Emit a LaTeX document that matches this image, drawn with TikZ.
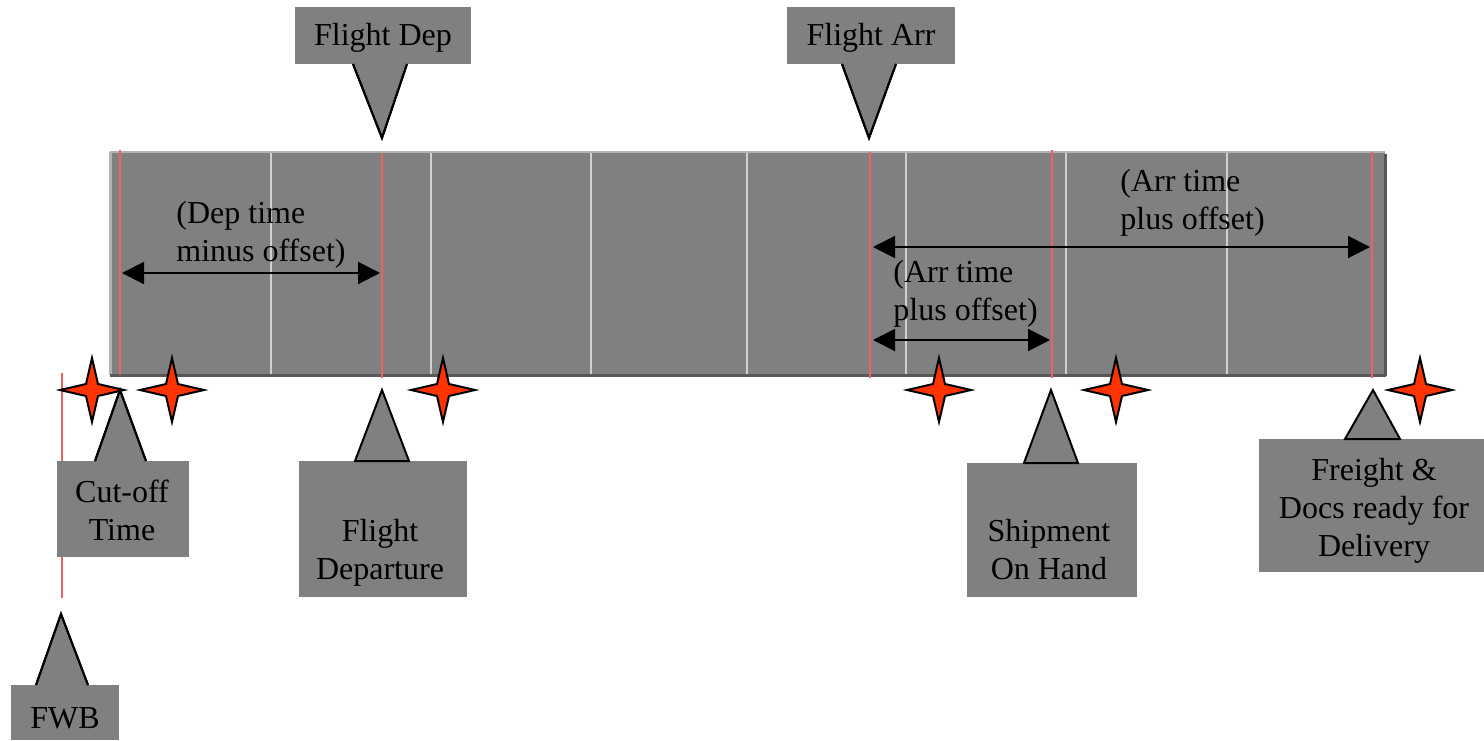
\documentclass[tikz,border=0pt]{standalone}
\usepackage{fontspec}
\setmainfont{Liberation Serif}
\usetikzlibrary{arrows.meta}
\definecolor{barfill}{HTML}{808080}
\definecolor{barlight}{HTML}{B2B2B2}
\definecolor{bardark}{HTML}{585858}
\definecolor{cellgap}{HTML}{D0D0D0}
\definecolor{marker}{HTML}{EA6460}
\definecolor{starred}{HTML}{FF3300}
\tikzset{
  callbox/.style={fill=barfill},
  calltip/.style={fill=barfill, draw=black, line width=1pt, line join=miter},
  lbl/.style={font=\fontsize{16}{19}\selectfont, align=center, inner sep=0pt, text=black},
  note/.style={font=\fontsize{16}{19}\selectfont, align=left, inner sep=0pt, anchor=north west, text=black},
  redmark/.style={draw=marker, line width=0.9pt},
  spanarrow/.style={draw=black, line width=1pt, {Triangle[length=11pt,width=11pt]}-{Triangle[length=11pt,width=11pt]}},
  sparkle/.style={fill=starred, draw=black, line width=1pt, line join=miter}
}
\newcommand\sparkleat[1]{%
  \draw[sparkle, shift={(#1)}] (32,0) -- (6,6) -- (0,32) -- (-6,6) -- (-32,0)
    -- (-6,-6) -- (0,-32) -- (6,-6) -- cycle;}
\begin{document}
\begin{tikzpicture}[x=0.5pt, y=-0.5pt]
\useasboundingbox (0,0) rectangle (1484,740);

% time bar made of eight cells
\fill[barfill] (110,152) rectangle (1385,375);
\foreach \xx in {271,431,591,747,906,1066,1227}
  \draw[cellgap, line width=1pt] (\xx,153) -- (\xx,374);
\draw[barlight, line width=1.2pt] (110,152) -- (1385,152);
\draw[barlight, line width=1.5pt] (110,152) -- (110,375);
\draw[bardark, line width=1.5pt] (110,375) -- (1386,375);
\draw[bardark, line width=1.5pt] (1385,154) -- (1385,376);

% event markers
\draw[redmark] (120,150) -- (120,375);
\draw[redmark] (382,153) -- (382,378);
\draw[redmark] (870,152) -- (870,378);
\draw[redmark] (1052,150) -- (1052,378);
\draw[redmark] (1372,152) -- (1372,378);
\draw[redmark] (62,373) -- (62,598);

% spans between events
\coordinate (depA) at (122,273);
\coordinate (depB) at (380,273);
\draw[spanarrow] (depA) -- (depB);
\node[note] (depnote) at (176,201) {(Dep time\\minus offset)};

\coordinate (arrA) at (873,247);
\coordinate (arrB) at (1370,247);
\draw[spanarrow] (arrA) -- (arrB);
\node[note] (arrnote) at (1120,169) {(Arr time\\plus offset)};

\coordinate (shA) at (873,340);
\coordinate (shB) at (1050,340);
\draw[spanarrow] (shA) -- (shB);
\node[note] (shnote) at (893,260) {(Arr time\\plus offset)};

% callouts above the bar
\path[callbox] (295,7) rectangle (471,64);
\coordinate (depTip) at (382,138);
\path[calltip] (353,64) -- (depTip) -- (407,64);
\draw[line width=1pt] (353,64) -- (depTip) -- (407,64);
\node[lbl] (fdep) at (383,38) {Flight Dep};

\path[callbox] (787,7) rectangle (955,64);
\coordinate (arrTip) at (869,138);
\path[calltip] (842,64) -- (arrTip) -- (896,64);
\draw[line width=1pt] (842,64) -- (arrTip) -- (896,64);
\node[lbl] (farr) at (871,38) {Flight Arr};

% callouts below the bar
\path[callbox] (57,461) rectangle (189,557);
\coordinate (cutTip) at (120,390);
\path[calltip] (95,461) -- (cutTip) -- (146,461);
\draw[line width=1pt] (95,461) -- (cutTip) -- (146,461);
\node[lbl] (cut) at (122,510) {Cut-off\\Time};

\path[callbox] (299,461) rectangle (467,597);
\coordinate (fdTip) at (382,390);
\draw[calltip] (355,461) -- (fdTip) -- (409,461) -- cycle;
\node[lbl] (fdepart) at (380,553) {Flight\\Departure};

\path[callbox] (967,463) rectangle (1137,597);
\coordinate (shTip) at (1051,390);
\draw[calltip] (1024,463) -- (shTip) -- (1078,463) -- cycle;
\node[lbl] (ship) at (1049,550) {Shipment\\On Hand};

\path[callbox] (1259,439) rectangle (1484,572);
\coordinate (frTip) at (1373,390);
\draw[calltip] (1345,439) -- (frTip) -- (1400,439) -- cycle;
\node[lbl] (freight) at (1374,511) {Freight \&\\Docs ready for\\Delivery};

\path[callbox] (11,685) rectangle (119,740);
\coordinate (fwbTip) at (61,614);
\path[calltip] (36,685) -- (fwbTip) -- (88,685);
\draw[line width=1pt] (36,685) -- (fwbTip) -- (88,685);
\node[lbl] (fwb) at (65,718) {FWB};

% milestone stars
\sparkleat{92,390}
\sparkleat{172,390}
\sparkleat{443,390}
\sparkleat{939,390}
\sparkleat{1116,390}
\sparkleat{1420,390}
\end{tikzpicture}
\end{document}
